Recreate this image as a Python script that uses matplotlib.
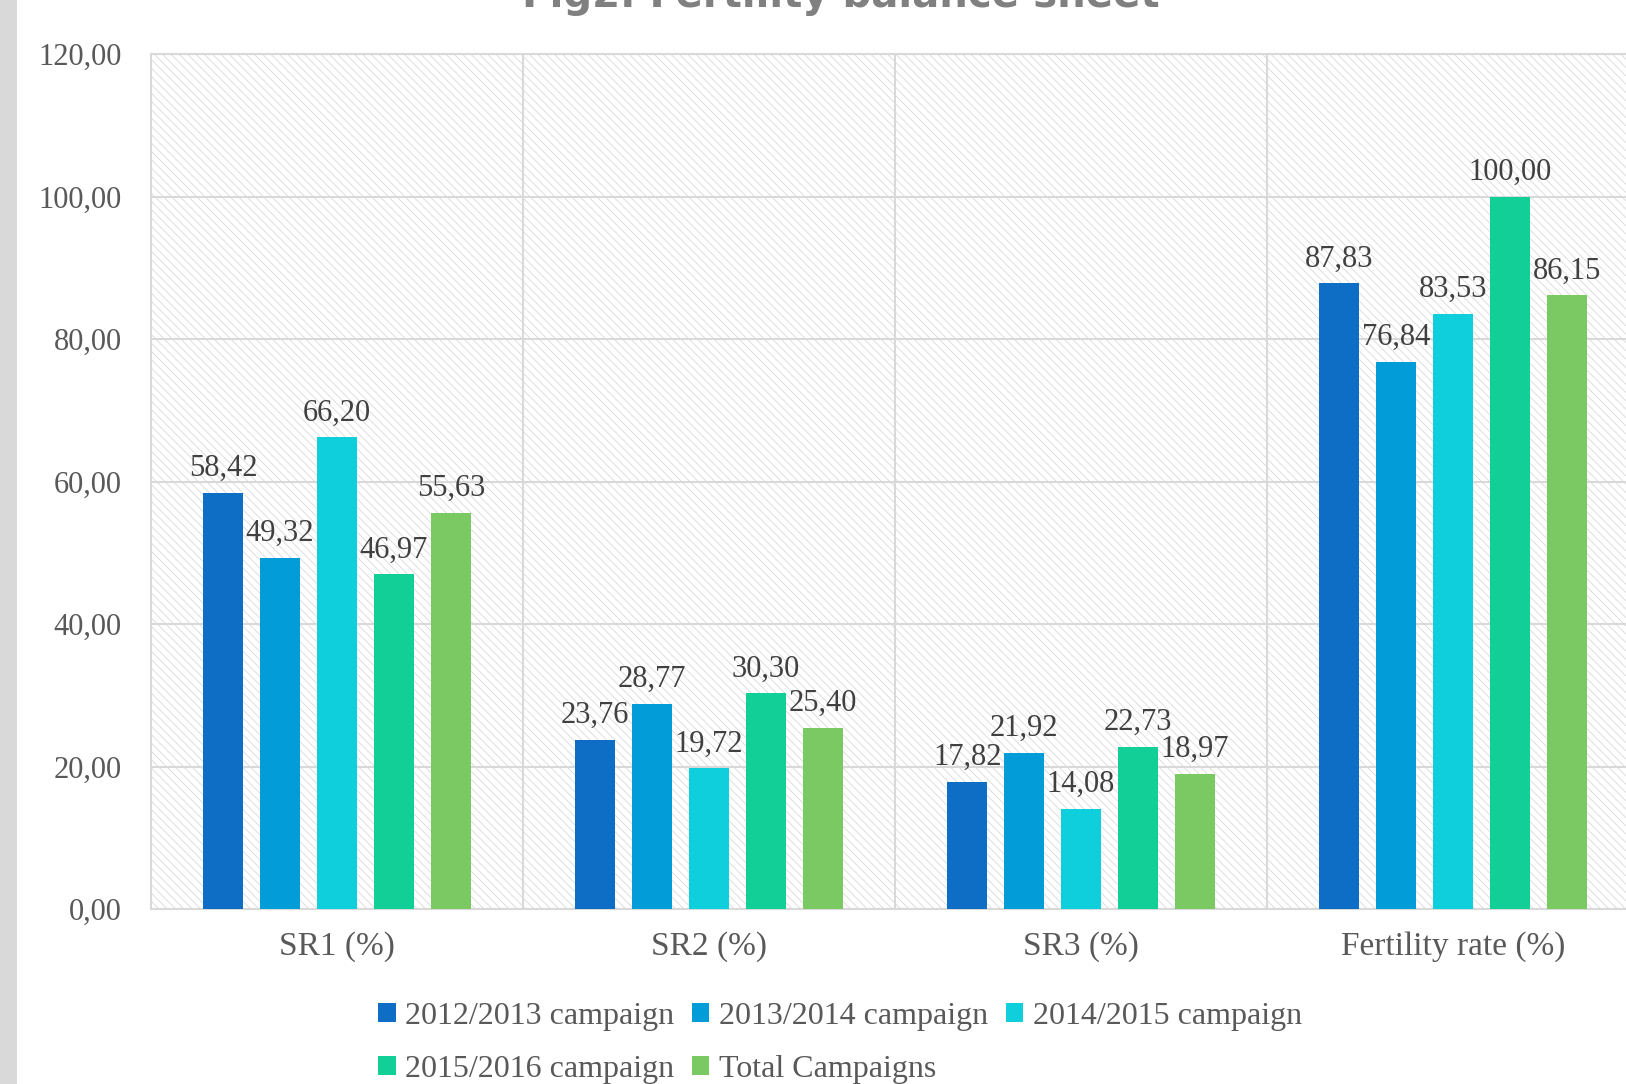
import numpy as np
import matplotlib.pyplot as plt
from matplotlib.patches import Rectangle

plt.rcParams['font.family'] = ['Liberation Serif', 'DejaVu Serif']
plt.rcParams['hatch.linewidth'] = 0.5

categories = ['SR1 (%)', 'SR2 (%)', 'SR3 (%)', 'Fertility rate (%)']
series_names = ['2012/2013 campaign', '2013/2014 campaign', '2014/2015 campaign',
                '2015/2016 campaign', 'Total Campaigns']
camp_1213 = [58.42, 23.76, 17.82, 87.83]
camp_1314 = [49.32, 28.77, 21.92, 76.84]
camp_1415 = [66.20, 19.72, 14.08, 83.53]
camp_1516 = [46.97, 30.30, 22.73, 100.00]
camp_total = [55.63, 25.40, 18.97, 86.15]
series_values = [camp_1213, camp_1314, camp_1415, camp_1516, camp_total]
colors = ['#0e6ec6', '#029dd9', '#0ecfdb', '#12ce97', '#7bc963']
yticks = [0, 20, 40, 60, 80, 100, 120]

fig = plt.figure(figsize=(16.26, 10.84), dpi=100)

# grey strip on the left edge
fig.patches.append(Rectangle((0, 0), 17 / 1626, 1, transform=fig.transFigure,
                             facecolor='#d9d9d9', edgecolor='none'))

# axes runs slightly past the right edge (chart is cropped)
ax = fig.add_axes([151 / 1626, 1 - 909 / 1084, 1488 / 1626, (909 - 54) / 1084])

# hatched plot area
ax.add_patch(Rectangle((0, 0), 1, 1, transform=ax.transAxes, facecolor='white',
                       edgecolor='#d2d2d2', hatch='\\' * 4, linewidth=0, zorder=0))

x = np.arange(len(categories))
width = 0.106
step = 0.153
handles = []
for i, (vals, col) in enumerate(zip(series_values, colors)):
    pos = x + (i - 2) * step
    b = ax.bar(pos, vals, width, color=col, zorder=3, label=series_names[i])
    handles.append(b)
    for xp, v in zip(pos, vals):
        ax.annotate(f'{v:.2f}'.replace('.', ','), (xp, v), xytext=(0, 7),
                    textcoords='offset points', ha='center', va='bottom',
                    fontsize=22, color='#404040', zorder=4)

ax.set_xlim(-0.5, 3.5)
ax.set_ylim(0, 120)
ax.set_yticks(yticks)
ax.set_yticklabels([f'{t:.2f}'.replace('.', ',') for t in yticks])
ax.set_xticks(x)
ax.set_xticklabels(categories)
ax.set_xticks([0.5, 1.5, 2.5], minor=True)
ax.tick_params(axis='y', length=0, pad=21, labelsize=22, labelcolor='#595959')
ax.tick_params(axis='x', which='both', length=0, pad=16, labelsize=24, labelcolor='#595959')
ax.grid(True, axis='y', color='#d9d9d9', linewidth=1.5, zorder=1)
ax.grid(True, axis='x', which='minor', color='#d9d9d9', linewidth=1.5, zorder=1)
ax.set_axisbelow(True)
for s in ax.spines.values():
    s.set_color('#d9d9d9')
    s.set_linewidth(1.5)

# legend: 3 columns, row-major order
order = [0, 3, 1, 4, 2]
leg = fig.legend([handles[k] for k in order], [series_names[k] for k in order],
                 ncol=3, loc='upper left', bbox_to_anchor=(378 / 1626, 1 - 1002 / 1084),
                 frameon=False, fontsize=23, handlelength=0.55, handleheight=0.55,
                 handletextpad=0.3, columnspacing=0.55, labelspacing=0.75,
                 borderaxespad=0, borderpad=0)
for t in leg.get_texts():
    t.set_color('#595959')

fig.text(0.517, 0.994, 'Fig2. Fertility balance sheet', ha='center', va='baseline',
         fontsize=29, fontweight='bold', color='#808080', family='DejaVu Sans')

fig.savefig('out.png', dpi=100)
